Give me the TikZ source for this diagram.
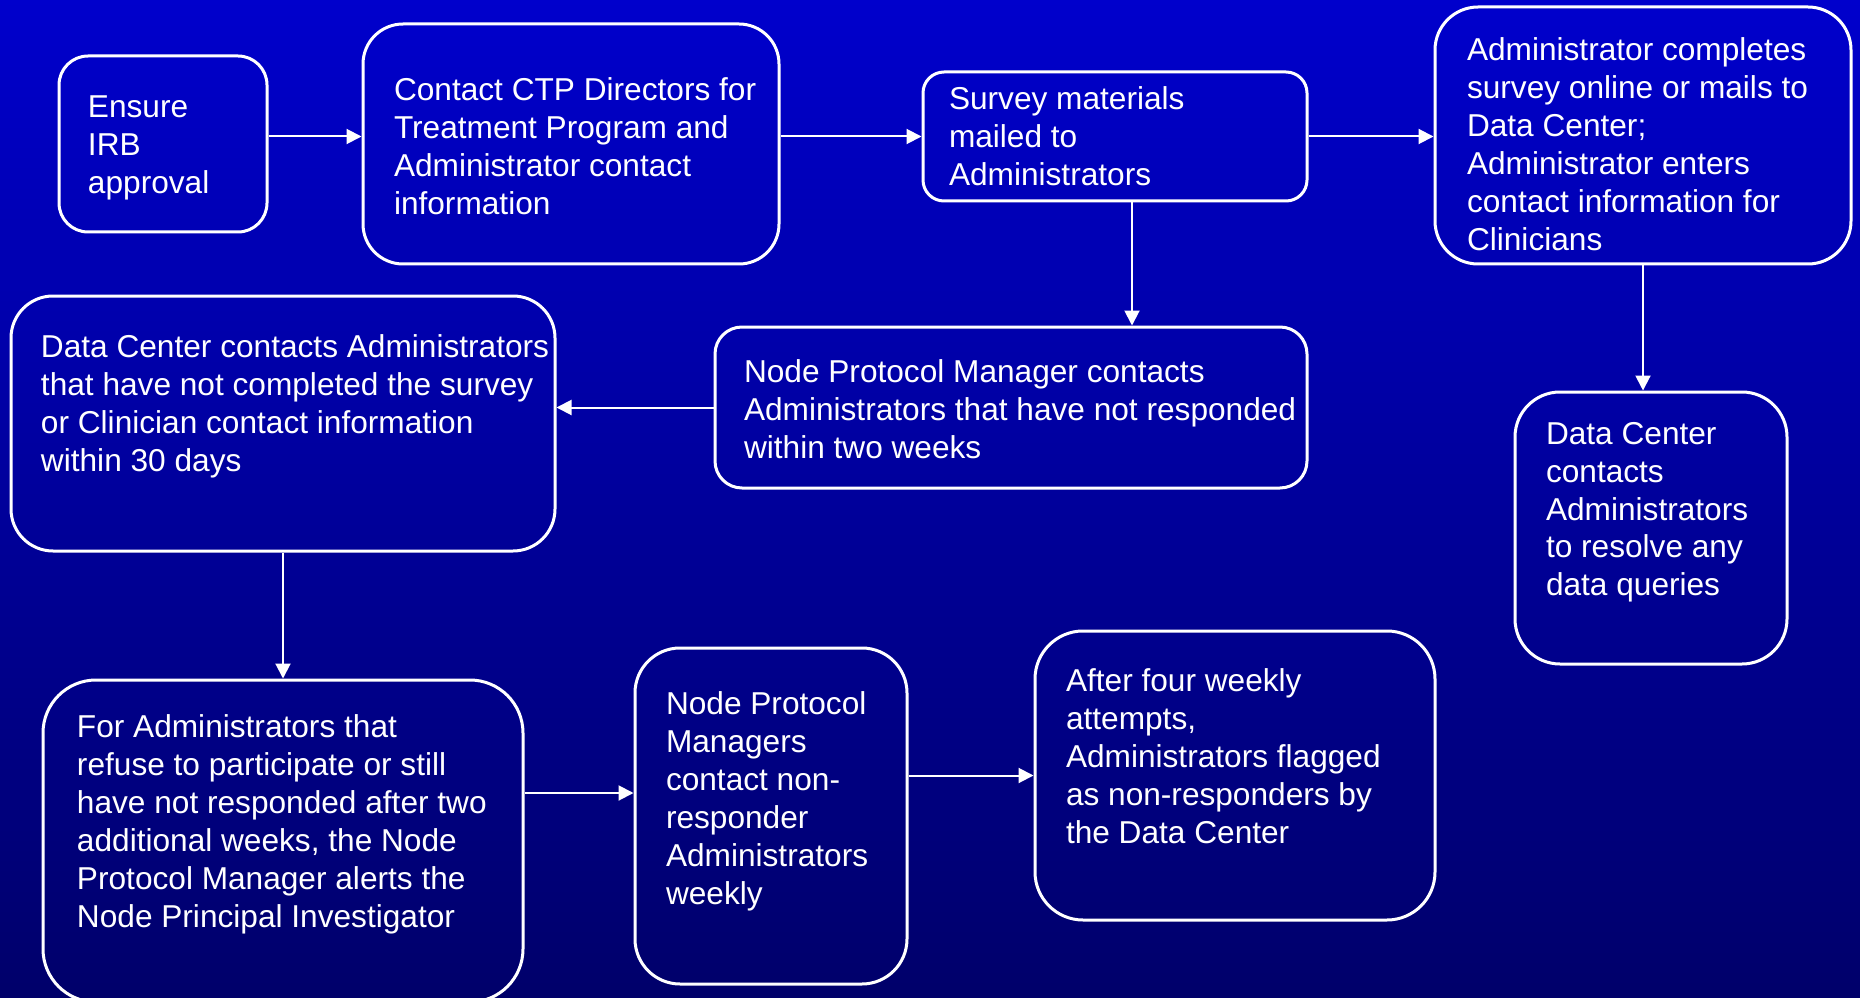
\documentclass[tikz,border=0pt]{standalone}
\usepackage{fontspec}
\setmainfont{Liberation Sans}
\usetikzlibrary{arrows.meta}
\definecolor{topblue}{RGB}{0,0,204}
\definecolor{bottomblue}{RGB}{0,0,106}

\begin{document}
\begin{tikzpicture}[x=0.1mm, y=-0.1mm, ->, >={Triangle[length=1.5mm, width=1.5mm]}, white, line width=0.2mm,
        box/.style={draw, rectangle, line width=0.3mm, inner sep=0pt},
        txt/.style={anchor=north west, align=left, inner sep=0pt, font=\fontsize{9pt}{10.8pt}\selectfont}]
                    \useasboundingbox (0,0) rectangle (1860,998);
                    \path[top color=topblue, bottom color=bottomblue] (0,0) rectangle (1860,998);

                    \node[box, minimum width=20.8mm, minimum height=17.6mm, rounded corners=2.9mm] (A) at (163,144) {};
                    \node[box, minimum width=41.6mm, minimum height=24mm, rounded corners=4mm] (B) at (571,144) {};
                    \node[box, minimum width=38.4mm, minimum height=12.9mm, rounded corners=2.1mm] (C) at (1115,136.5) {};
                    \node[box, minimum width=41.6mm, minimum height=25.7mm, rounded corners=4.3mm] (D) at (1643,135.5) {};
                    \node[box, minimum width=54.4mm, minimum height=25.5mm, rounded corners=4.2mm] (E) at (283,423.5) {};
                    \node[box, minimum width=59.2mm, minimum height=16.1mm, rounded corners=2.7mm] (F) at (1011,407.5) {};
                    \node[box, minimum width=27.2mm, minimum height=27.2mm, rounded corners=4.5mm] (G) at (1651,528) {};
                    \node[box, minimum width=48mm, minimum height=32.2mm, rounded corners=5.3mm] (H) at (283,841) {};
                    \node[box, minimum width=27.2mm, minimum height=33.6mm, rounded corners=4.5mm] (I) at (771,816) {};
                    \node[box, minimum width=40mm, minimum height=28.9mm, rounded corners=4.8mm] (J) at (1235,775.5) {};

                    \node[txt] (a) at (87,95) {Ensure\\IRB\\approval};
                    \node[txt] (b) at (393,77) {Contact CTP Directors for\\Treatment Program and\\Administrator contact\\information};
                    \node[txt] (c) at (948,86) {Survey materials\\mailed to\\Administrators};
                    \node[txt] (d) at (1466,37) {Administrator completes\\survey online or mails to\\Data Center;\\Administrator enters\\contact information for\\Clinicians};
                    \node[txt] (e) at (40,334) {Data Center contacts Administrators\\that have not completed the survey\\or Clinician contact information\\within 30 days};
                    \node[txt] (f) at (743,359) {Node Protocol Manager contacts\\Administrators that have not responded\\within two weeks};
                    \node[txt] (g) at (1545,421) {Data Center\\contacts\\Administrators\\to resolve any\\data queries};
                    \node[txt] (h) at (76,714) {For Administrators that\\refuse to participate or still\\have not responded after two\\additional weeks, the Node\\Protocol Manager alerts the\\Node Principal Investigator};
                    \node[txt] (i) at (665,691) {Node Protocol\\Managers\\contact non-\\responder\\Administrators\\weekly};
                    \node[txt] (j) at (1065,668) {After four weekly\\attempts,\\Administrators flagged\\as non-responders by\\the Data Center};

                    \coordinate (Cout) at ([xshift=1.7mm]C.south);
                    \coordinate (Iin) at ([yshift=2.3mm]I.west);

                    \draw (A.east |- C.west) -- (B.west |- C.west);
                    \draw (B.east |- C.west) -- (C.west);
                    \draw (C.east) -- (D.west |- C.east);
                    \draw (Cout) -- (Cout |- F.north);
                    \draw (D.south) -- (G.north -| D.south);
                    \draw (F.west) -- (E.east |- F.west);
                    \draw (E.south) -- (H.north);
                    \draw (H.east |- Iin) -- (Iin);
                    \draw (I.east |- J.west) -- (J.west);
                \end{tikzpicture}
\end{document}
